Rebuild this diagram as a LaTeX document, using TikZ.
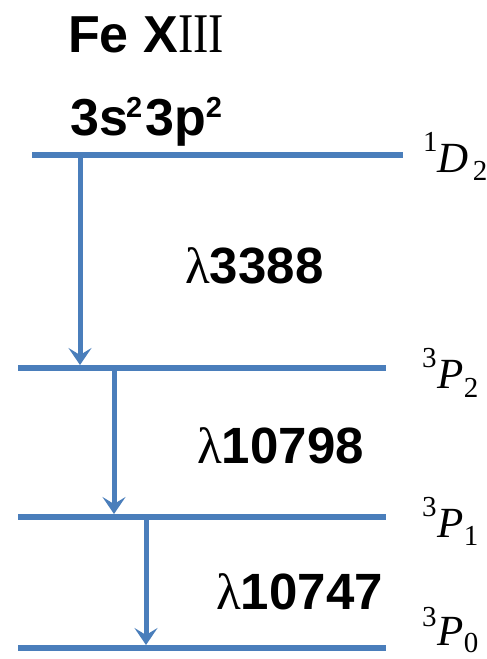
\documentclass[tikz,border=0pt]{standalone}
\usepackage{fontspec}
\usepackage{graphicx}
\setmainfont{Liberation Sans}
\newfontfamily\serifface{Liberation Serif}
\usetikzlibrary{arrows.meta}
\definecolor{lvlblue}{RGB}{74,126,187}
\newcommand{\supsz}[1]{{\fontsize{29bp}{29bp}\selectfont #1}}
\begin{document}
\begin{tikzpicture}[x=1bp,y=-1bp,
  level/.style={draw=lvlblue,line width=6bp},
  trans/.style={draw=lvlblue,line width=5bp,-{Stealth[length=17bp,width=23bp,inset=7bp]}},
  lbl/.style={anchor=base west,inner sep=0pt,font=\fontsize{51bp}{51bp}\selectfont\bfseries},
  term/.style={anchor=base west,inner sep=0pt,font=\serifface\fontsize{43bp}{43bp}\selectfont}]
\useasboundingbox (0,0) rectangle (487,659);
% level end points
\coordinate (L1a) at (32,155);  \coordinate (L1b) at (403,155);
\coordinate (L2a) at (18,368);  \coordinate (L2b) at (386,368);
\coordinate (L3a) at (18,517);  \coordinate (L3b) at (386,517);
\coordinate (L4a) at (18,648);  \coordinate (L4b) at (386,648);
\draw[level] (L1a) -- (L1b);
\draw[level] (L2a) -- (L2b);
\draw[level] (L3a) -- (L3b);
\draw[level] (L4a) -- (L4b);
% transitions
\coordinate (T1s) at (80,155);  \coordinate (T1e) at (80,365);
\coordinate (T2s) at (114,368); \coordinate (T2e) at (114,514);
\coordinate (T3s) at (146,517); \coordinate (T3e) at (146,645);
\draw[trans] (T1s) -- (T1e);
\draw[trans] (T2s) -- (T2e);
\draw[trans] (T3s) -- (T3e);
% titles
\node[lbl,font=\fontsize{52bp}{52bp}\selectfont\bfseries] (title) at (68,53)
  {Fe X{\serifface\mdseries\fontsize{56bp}{56bp}\selectfont\scalebox{0.82}[1]{III}}};
\node[lbl,font=\fontsize{52bp}{52bp}\selectfont\bfseries] (cfg) at (70,135)
  {3s\kern-2bp\raisebox{17bp}{\supsz{2}}\kern3bp 3p\raisebox{17bp}{\supsz{2}}};
% wavelengths
\node[lbl] (w1) at (185,283) {{\serifface\mdseries λ}3388};
\node[lbl] (w2) at (197,463) {{\serifface\mdseries λ}10798};
\node[lbl] (w3) at (216,609) {{\serifface\mdseries λ}10747};
% terms
\node[term] (t1) at (423,172) {\raisebox{21bp}{\supsz{1}}\kern0bp\textit{D}\kern4bp\raisebox{-8bp}{\supsz{2}}};
\node[term] (t2) at (422,388) {\raisebox{21bp}{\supsz{3}}\kern1bp\textit{P}\kern0bp\raisebox{-9bp}{\supsz{2}}};
\node[term] (t3) at (422,537) {\raisebox{21bp}{\supsz{3}}\kern1bp\textit{P}\kern0bp\raisebox{-8bp}{\supsz{1}}};
\node[term] (t4) at (422,645) {\raisebox{19bp}{\supsz{3}}\kern1bp\textit{P}\kern0bp\raisebox{-7bp}{\supsz{0}}};
\end{tikzpicture}
\end{document}
